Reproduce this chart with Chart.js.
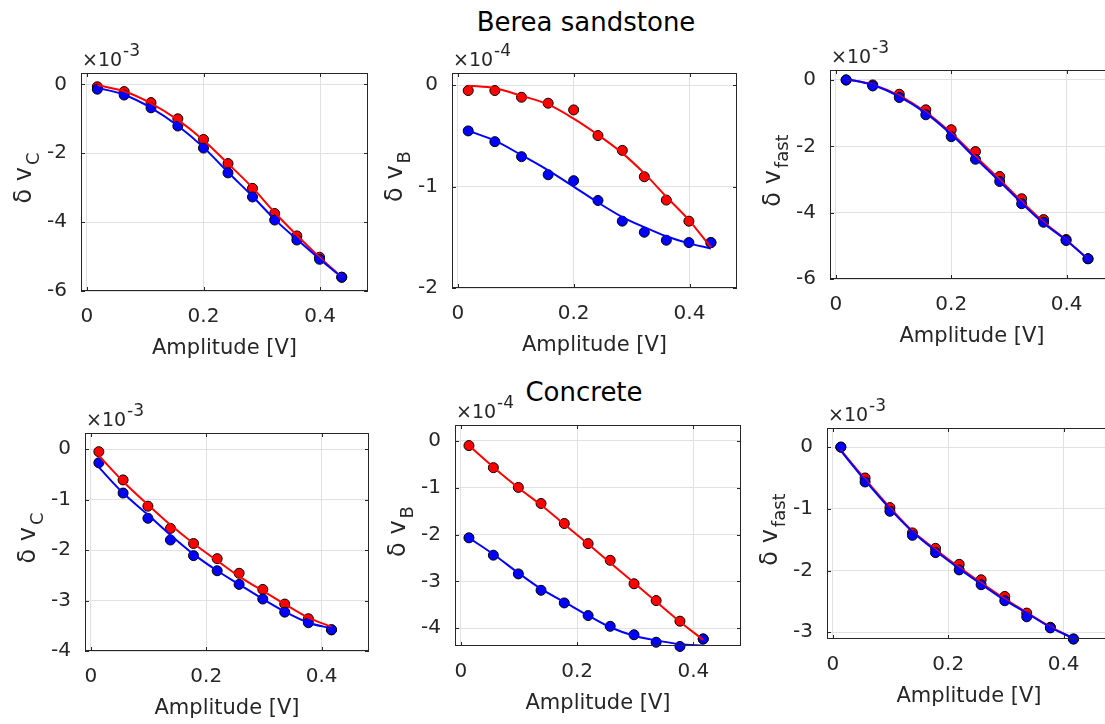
<!DOCTYPE html>
<html>
<head>
<meta charset="utf-8">
<script src="https://cdn.jsdelivr.net/npm/chart.js@4.4.1/dist/chart.umd.min.js"></script>
<style>
  html, body { margin: 0; padding: 0; background: #fff; overflow: hidden; }
  body { width: 1105px; height: 724px; position: relative; font-family: "DejaVu Sans", sans-serif; }
  canvas { position: absolute; }
  .ttl { position: absolute; width: 400px; text-align: center; font-size: 26px; line-height: 26px; color: #000; }
</style>
</head>
<body>
<div class="ttl" style="left:386px; top:9px;">Berea sandstone</div>
<div class="ttl" style="left:384px; top:379px;">Concrete</div>
<canvas id="p1"></canvas>
<canvas id="p2"></canvas>
<canvas id="p3"></canvas>
<canvas id="p4"></canvas>
<canvas id="p5"></canvas>
<canvas id="p6"></canvas>
<script>
// drive amplitudes [V]
const amplitudeBerea = [0.018, 0.064, 0.11, 0.156, 0.2, 0.242, 0.284, 0.322, 0.36, 0.399, 0.437];
const amplitudeConcrete = [0.014, 0.056, 0.099, 0.138, 0.178, 0.219, 0.257, 0.298, 0.336, 0.377, 0.417];

// Berea, delta v_C (x 1e-3)
const bereaVcRed = [-0.07, -0.21, -0.53, -1.0, -1.6, -2.3, -3.02, -3.75, -4.4, -5.02, -5.6];
const bereaVcBlue = [-0.14, -0.31, -0.68, -1.21, -1.85, -2.57, -3.27, -3.94, -4.52, -5.08, -5.6];
const bereaVcFitRed = [-0.02, -0.2, -0.55, -1.03, -1.62, -2.3, -3.0, -3.72, -4.38, -5.02, -5.6];
const bereaVcFitBlue = [-0.1, -0.3, -0.68, -1.2, -1.83, -2.55, -3.25, -3.92, -4.5, -5.07, -5.6];

// Berea, delta v_B (x 1e-4)
const bereaVbRed = [-0.053, -0.053, -0.119, -0.178, -0.244, -0.497, -0.643, -0.903, -1.133, -1.341, -1.552];
const bereaVbBlue = [-0.451, -0.557, -0.705, -0.883, -0.942, -1.137, -1.341, -1.45, -1.529, -1.552, -1.552];
const bereaVbFitRed = [-0.005, -0.03, -0.105, -0.19, -0.33, -0.49, -0.67, -0.87, -1.1, -1.33, -1.6];
const bereaVbFitBlue = [-0.45, -0.547, -0.69, -0.84, -1.0, -1.157, -1.3, -1.4, -1.49, -1.56, -1.61];

// Berea, delta v_fast (x 1e-3)
const bereaVfRed = [0, -0.15, -0.43, -0.9, -1.5, -2.16, -2.91, -3.58, -4.21, -4.81, -5.39];
const bereaVfBlue = [0, -0.18, -0.53, -1.05, -1.71, -2.39, -3.06, -3.73, -4.29, -4.84, -5.39];
const bereaVfFitRed = [0.02, -0.14, -0.47, -0.97, -1.6, -2.3, -3.0, -3.66, -4.28, -4.82, -5.4];
const bereaVfFitBlue = [0.03, -0.15, -0.5, -1.0, -1.64, -2.36, -3.06, -3.71, -4.32, -4.83, -5.4];

// Concrete, delta v_C (x 1e-3)
const concVcRed = [-0.05, -0.61, -1.13, -1.57, -1.87, -2.17, -2.46, -2.78, -3.07, -3.36, -3.58];
const concVcBlue = [-0.27, -0.87, -1.37, -1.8, -2.11, -2.41, -2.68, -2.97, -3.23, -3.44, -3.58];
const concVcFitRed = [-0.13, -0.64, -1.1, -1.5, -1.87, -2.21, -2.52, -2.81, -3.07, -3.34, -3.52];
const concVcFitBlue = [-0.36, -0.87, -1.3, -1.7, -2.08, -2.41, -2.68, -2.97, -3.22, -3.44, -3.55];

// Concrete, delta v_B (x 1e-4)
const concVbRed = [-0.1, -0.571, -0.993, -1.336, -1.764, -2.193, -2.55, -3.05, -3.41, -3.85, -4.23];
const concVbBlue = [-2.07, -2.44, -2.84, -3.19, -3.46, -3.73, -3.96, -4.14, -4.3, -4.39, -4.23];
const concVbFitRed = [-0.1, -0.56, -1.0, -1.37, -1.78, -2.2, -2.6, -3.03, -3.43, -3.86, -4.25];
const concVbFitBlue = [-2.07, -2.42, -2.82, -3.16, -3.44, -3.73, -3.98, -4.16, -4.26, -4.34, -4.37];

// Concrete, delta v_fast (x 1e-3)
const concVfRed = [0, -0.5, -0.98, -1.39, -1.64, -1.9, -2.15, -2.42, -2.69, -2.92, -3.11];
const concVfBlue = [0, -0.565, -1.04, -1.43, -1.71, -1.99, -2.23, -2.49, -2.75, -2.93, -3.11];
const concVfFitRed = [-0.05, -0.52, -0.98, -1.36, -1.66, -1.95, -2.2, -2.46, -2.68, -2.91, -3.1];
const concVfFitBlue = [-0.06, -0.54, -1.0, -1.37, -1.68, -1.97, -2.22, -2.48, -2.69, -2.92, -3.1];

// tick labels
const xTicks = [0, 0.2, 0.4];
const yTicksStep2 = [-6, -4, -2, 0];
const yTicksB = [-2, -1, 0];
const yTicks4 = [-4, -3, -2, -1, 0];
const yTicks3 = [-3, -2, -1, 0];

const FONT = '"DejaVu Sans", sans-serif';
const AX = '#262626';

function pairs(xs, ys) {
  return xs.map((x, i) => ({x: x, y: ys[i]}));
}

// box, ticks, y label with subscript and the x10^n factor
const panelDecor = {
  id: 'panelDecor',
  afterDraw(chart, args, opts) {
    const ctx = chart.ctx;
    const a = chart.chartArea;
    const xs = chart.scales.x, ys = chart.scales.y;
    ctx.save();
    ctx.strokeStyle = AX;
    ctx.lineWidth = 1;
    ctx.strokeRect(a.left + 0.5, a.top + 0.5, a.right - a.left - 1, a.bottom - a.top - 1);
    ctx.beginPath();
    xTicks.forEach(v => {
      const px = Math.round(xs.getPixelForValue(v)) + 0.5;
      ctx.moveTo(px, a.bottom); ctx.lineTo(px, a.bottom - 4);
      ctx.moveTo(px, a.top); ctx.lineTo(px, a.top + 4);
    });
    opts.yTicks.forEach(v => {
      const py = Math.round(ys.getPixelForValue(v)) + 0.5;
      ctx.moveTo(a.left, py); ctx.lineTo(a.left + 4, py);
      ctx.moveTo(a.right, py); ctx.lineTo(a.right - 4, py);
    });
    ctx.stroke();

    // y label: "δ v" + subscript, rotated
    ctx.fillStyle = AX;
    ctx.textBaseline = 'alphabetic';
    ctx.textAlign = 'left';
    ctx.font = '24px ' + FONT;
    const main = 'δ v';
    const wMain = ctx.measureText(main).width;
    ctx.font = '18px ' + FONT;
    const wSub = ctx.measureText(opts.sub).width;
    const total = wMain + 2 + wSub;
    ctx.translate(a.left - 50, (a.top + a.bottom) / 2 - 4);
    ctx.rotate(-Math.PI / 2);
    ctx.font = '24px ' + FONT;
    ctx.fillText(main, -total / 2, 0);
    ctx.font = '18px ' + FONT;
    ctx.fillText(opts.sub, -total / 2 + wMain + 2, 8);
    ctx.setTransform(1, 0, 0, 1, 0, 0);

    // exponent factor
    ctx.font = '19px ' + FONT;
    const base = '×10';
    ctx.fillText(base, a.left + 1, a.top - 7);
    const wBase = ctx.measureText(base).width;
    ctx.font = '17px ' + FONT;
    ctx.fillText(opts.expo, a.left + 1 + wBase + 1, a.top - 17);
    ctx.restore();
  }
};

function drawPanel(id, box, xs, red, blue, fitRed, fitBlue, yMin, yMax, yTicks, sub, expo) {
  const cv = document.getElementById(id);
  cv.width = box.r - box.l + 90;
  cv.height = box.b - box.t + 115;
  cv.style.left = (box.l - 80) + 'px';
  cv.style.top = (box.t - 40) + 'px';
  const fitLine = (ys, col) => ({
    data: pairs(xs, ys), showLine: true, borderColor: col, borderWidth: 2,
    pointRadius: 0, cubicInterpolationMode: 'monotone', fill: false
  });
  const dots = (ys, col) => ({
    data: pairs(xs, ys), showLine: false, pointRadius: 5, pointBackgroundColor: col,
    pointBorderColor: '#000', pointBorderWidth: 1, clip: false
  });
  new Chart(cv, {
    type: 'scatter',
    data: {
      // first dataset is painted last (on top)
      datasets: [fitLine(fitBlue, '#0000ff'), fitLine(fitRed, '#ff0000'), dots(blue, '#0000ff'), dots(red, '#ff0000')]
    },
    options: {
      responsive: false,
      animation: false,
      events: [],
      layout: { padding: { left: 0, top: 40, right: 10, bottom: 0 } },
      plugins: {
        legend: { display: false },
        tooltip: { enabled: false },
        panelDecor: { sub: sub, expo: expo, yTicks: yTicks }
      },
      scales: {
        x: {
          type: 'linear', min: -0.01, max: 0.482,
          afterBuildTicks: s => { s.ticks = xTicks.map(v => ({value: v})); },
          afterFit: s => { s.height = 75; },
          grid: { color: '#e1e1e1', drawTicks: false },
          border: { display: false },
          ticks: { color: AX, font: { family: FONT, size: 20 }, padding: 14, maxRotation: 0,
                   callback: v => String(v) },
          title: { display: true, text: 'Amplitude [V]', color: AX,
                   font: { family: FONT, size: 21 }, padding: { top: 0, bottom: 5 } }
        },
        y: {
          type: 'linear', min: yMin, max: yMax,
          afterBuildTicks: s => { s.ticks = yTicks.map(v => ({value: v})); },
          afterFit: s => { s.width = 80; },
          grid: { color: '#e1e1e1', drawTicks: false },
          border: { display: false },
          ticks: { color: AX, font: { family: FONT, size: 20 }, padding: 14,
                   callback: v => String(v) }
        }
      }
    },
    plugins: [panelDecor]
  });
}

drawPanel('p1', {l: 81, t: 73, r: 368, b: 291}, amplitudeBerea,
  bereaVcRed, bereaVcBlue, bereaVcFitRed, bereaVcFitBlue, -6, 0.33, yTicksStep2, 'C', '-3');
drawPanel('p2', {l: 452, t: 73, r: 737, b: 288}, amplitudeBerea,
  bereaVbRed, bereaVbBlue, bereaVbFitRed, bereaVbFitBlue, -2, 0.12, yTicksB, 'B', '-4');
drawPanel('p3', {l: 830, t: 70, r: 1114, b: 279}, amplitudeBerea,
  bereaVfRed, bereaVfBlue, bereaVfFitRed, bereaVfFitBlue, -6, 0.3, yTicksStep2, 'fast', '-3');
drawPanel('p4', {l: 85, t: 433, r: 369, b: 651}, amplitudeConcrete,
  concVcRed, concVcBlue, concVcFitRed, concVcFitBlue, -4, 0.32, yTicks4, 'C', '-3');
drawPanel('p5', {l: 455, t: 425, r: 741, b: 646}, amplitudeConcrete,
  concVbRed, concVbBlue, concVbFitRed, concVbFitBlue, -4.38, 0.34, yTicks4, 'B', '-4');
drawPanel('p6', {l: 827, t: 428, r: 1111, b: 639}, amplitudeConcrete,
  concVfRed, concVfBlue, concVfFitRed, concVfFitBlue, -3.11, 0.31, yTicks3, 'fast', '-3');
</script>
</body>
</html>
